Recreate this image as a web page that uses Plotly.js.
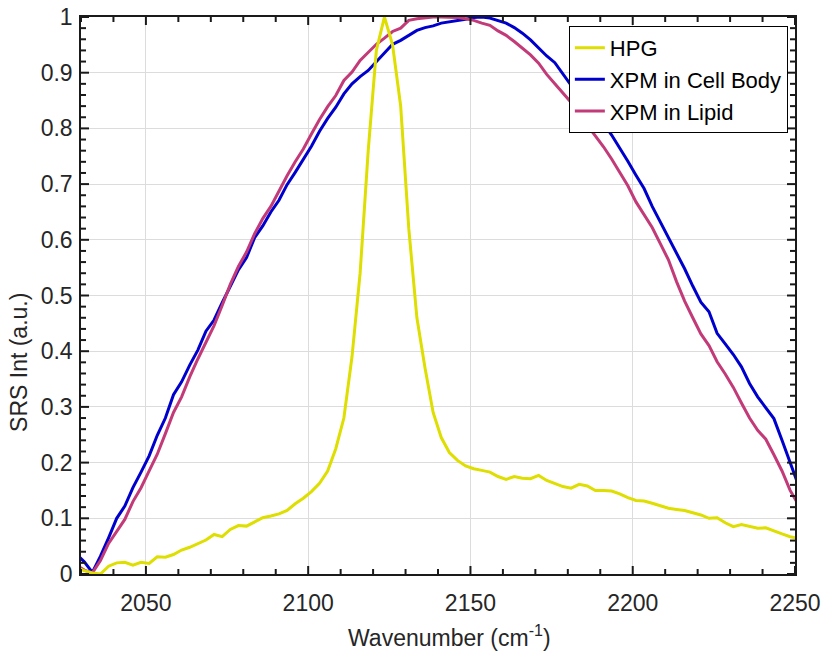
<!DOCTYPE html>
<html>
<head>
<meta charset="utf-8">
<script src="https://cdn.plot.ly/plotly-3.0.1.min.js"></script>
<style>
  html, body { margin: 0; padding: 0; background: #ffffff; }
  #chart { width: 826px; height: 655px; }
</style>
</head>
<body>
<div id="chart"></div>
<script>
// Wavenumber axis (cm^-1)
const wavenumber = [2028.5, 2031, 2033.5, 2036, 2038.5, 2041, 2043.5, 2046, 2048.5, 2051,
  2053.5, 2056, 2058.5, 2061, 2063.5, 2066, 2068.5, 2071, 2073.5, 2076,
  2078.5, 2081, 2083.5, 2086, 2088.5, 2091, 2093.5, 2096, 2098.5, 2101,
  2103.5, 2106, 2108.5, 2111, 2113.5, 2116, 2118.5, 2121, 2123.5, 2126,
  2128.5, 2131, 2133.5, 2136, 2138.5, 2141, 2143.5, 2146, 2148.5, 2151,
  2153.5, 2156, 2158.5, 2161, 2163.5, 2166, 2168.5, 2171, 2173.5, 2176,
  2178.5, 2181, 2183.5, 2186, 2188.5, 2191, 2193.5, 2196, 2198.5, 2201,
  2203.5, 2206, 2208.5, 2211, 2213.5, 2216, 2218.5, 2221, 2223.5, 2226,
  2228.5, 2231, 2233.5, 2236, 2238.5, 2241, 2243.5, 2246, 2248.5, 2251];

// HPG
const hpg = [0.012, 0.006, 0.002, 0.000, 0.014, 0.020, 0.021, 0.016, 0.021, 0.019,
  0.031, 0.030, 0.035, 0.043, 0.048, 0.054, 0.061, 0.071, 0.067, 0.080,
  0.087, 0.086, 0.094, 0.101, 0.104, 0.108, 0.114, 0.126, 0.136, 0.148,
  0.163, 0.185, 0.225, 0.280, 0.390, 0.540, 0.760, 0.940, 1.000, 0.950,
  0.840, 0.620, 0.460, 0.370, 0.290, 0.245, 0.218, 0.204, 0.194, 0.189,
  0.186, 0.183, 0.175, 0.170, 0.175, 0.172, 0.171, 0.177, 0.168, 0.162,
  0.157, 0.154, 0.161, 0.158, 0.150, 0.150, 0.149, 0.144, 0.137, 0.132,
  0.131, 0.127, 0.122, 0.118, 0.116, 0.114, 0.110, 0.106, 0.100, 0.101,
  0.092, 0.085, 0.089, 0.085, 0.082, 0.083, 0.077, 0.072, 0.067, 0.064];

// XPM in Cell Body
const xpmCell = [0.036, 0.022, 0.003, 0.032, 0.065, 0.100, 0.122, 0.155, 0.183, 0.212,
  0.249, 0.280, 0.322, 0.345, 0.375, 0.402, 0.436, 0.456, 0.487, 0.518,
  0.546, 0.568, 0.604, 0.625, 0.650, 0.671, 0.699, 0.721, 0.745, 0.768,
  0.795, 0.818, 0.838, 0.862, 0.880, 0.893, 0.904, 0.920, 0.936, 0.951,
  0.958, 0.967, 0.976, 0.981, 0.984, 0.989, 0.991, 0.993, 0.996, 0.999,
  1.000, 0.998, 0.994, 0.989, 0.981, 0.971, 0.959, 0.945, 0.930, 0.918,
  0.897, 0.877, 0.857, 0.840, 0.825, 0.809, 0.788, 0.765, 0.741, 0.716,
  0.692, 0.660, 0.632, 0.603, 0.575, 0.548, 0.517, 0.488, 0.471, 0.432,
  0.413, 0.394, 0.372, 0.342, 0.318, 0.299, 0.279, 0.240, 0.198, 0.160];

// XPM in Lipid
const xpmLipid = [0.016, 0.007, 0.002, 0.024, 0.055, 0.077, 0.098, 0.130, 0.155, 0.185,
  0.215, 0.252, 0.290, 0.318, 0.354, 0.386, 0.416, 0.446, 0.482, 0.520,
  0.552, 0.578, 0.611, 0.638, 0.660, 0.688, 0.715, 0.740, 0.763, 0.790,
  0.816, 0.839, 0.859, 0.886, 0.901, 0.922, 0.936, 0.951, 0.962, 0.974,
  0.980, 0.994, 0.997, 0.999, 1.000, 1.000, 1.000, 0.999, 0.997, 0.994,
  0.989, 0.985, 0.975, 0.967, 0.956, 0.944, 0.932, 0.917, 0.897, 0.880,
  0.863, 0.847, 0.830, 0.806, 0.787, 0.767, 0.745, 0.721, 0.697, 0.668,
  0.645, 0.622, 0.593, 0.564, 0.525, 0.490, 0.460, 0.431, 0.410, 0.381,
  0.359, 0.335, 0.307, 0.280, 0.258, 0.242, 0.214, 0.185, 0.150, 0.125];

const seriesNames = ["HPG", "XPM in Cell Body", "XPM in Lipid"];
const yTickVals = [0, 0.1, 0.2, 0.3, 0.4, 0.5, 0.6, 0.7, 0.8, 0.9, 1];
const yTickText = ["0", "0.1", "0.2", "0.3", "0.4", "0.5", "0.6", "0.7", "0.8", "0.9", "1"];
const xTickVals = [2050, 2100, 2150, 2200, 2250];
const xTickText = ["2050", "2100", "2150", "2200", "2250"];
const xTitle = "Wavenumber (cm<sup>-1</sup>)";
const yTitle = "SRS Int (a.u.)";

const FONT = "'Liberation Sans', Arial, Helvetica, sans-serif";
const AX = "#262626";
const X_RANGE = [2030, 2250];
const Y_RANGE = [0, 1];
const X_MINOR_STEP = 10;
const Y_MINOR_STEP = 0.02;

const W = 826, H = 655;
const M = { l: 81, r: 31, t: 17, b: 81 };

// Inside tick marks on all four sides, built as a decoration line trace
// (lengths converted from pixels to axis units).
function tickTrace() {
  const pxX = (X_RANGE[1] - X_RANGE[0]) / (W - M.l - M.r);
  const pxY = (Y_RANGE[1] - Y_RANGE[0]) / (H - M.t - M.b);
  const xs = [], ys = [];
  const nX = Math.round((X_RANGE[1] - X_RANGE[0]) / X_MINOR_STEP);
  for (let i = 0; i <= nX; i++) {
    const v = +(X_RANGE[0] + i * X_MINOR_STEP).toFixed(6);
    const len = (xTickVals.includes(v) ? 8 : 5) * pxY;
    xs.push(v, v, null, v, v, null);
    ys.push(Y_RANGE[0], Y_RANGE[0] + len, null, Y_RANGE[1], Y_RANGE[1] - len, null);
  }
  const nY = Math.round((Y_RANGE[1] - Y_RANGE[0]) / Y_MINOR_STEP);
  for (let i = 0; i <= nY; i++) {
    const v = +(Y_RANGE[0] + i * Y_MINOR_STEP).toFixed(6);
    const len = (yTickVals.includes(v) ? 8 : 5) * pxX;
    xs.push(X_RANGE[0], X_RANGE[0] + len, null, X_RANGE[1], X_RANGE[1] - len, null);
    ys.push(v, v, null, v, v, null);
  }
  return { x: xs, y: ys, type: "scatter", mode: "lines", connectgaps: false,
    line: { color: "#1a1a1a", width: 2 }, showlegend: false, hoverinfo: "skip" };
}

const traces = [
  { x: wavenumber, y: xpmCell, name: seriesNames[1], type: "scatter", mode: "lines",
    line: { color: "#0000CD", width: 3 }, legendrank: 2 },
  { x: wavenumber, y: xpmLipid, name: seriesNames[2], type: "scatter", mode: "lines",
    line: { color: "#C23B78", width: 3 }, legendrank: 3 },
  { x: wavenumber, y: hpg, name: seriesNames[0], type: "scatter", mode: "lines",
    line: { color: "#DEDE00", width: 3 }, legendrank: 1 },
  tickTrace()
];

const layout = {
  width: W, height: H,
  margin: { l: M.l, r: M.r, t: M.t, b: M.b, pad: 0 },
  paper_bgcolor: "#ffffff", plot_bgcolor: "#ffffff",
  font: { family: FONT, size: 23, color: AX },
  showlegend: true,
  legend: {
    x: 0.99, y: 0.984, xanchor: "right", yanchor: "top",
    bgcolor: "#ffffff", bordercolor: "#000000", borderwidth: 1,
    font: { family: FONT, size: 22, color: "#000000" },
    itemwidth: 30, tracegroupgap: 0
  },
  xaxis: {
    range: X_RANGE, tickmode: "array", tickvals: xTickVals, ticktext: xTickText,
    showline: true, linecolor: "#1a1a1a", linewidth: 1.5, mirror: true, ticks: "",
    showgrid: true, gridcolor: "#dcdcdc", gridwidth: 1, zeroline: false,
    tickfont: { family: FONT, size: 23, color: AX }, ticklabelstandoff: 8
  },
  yaxis: {
    range: Y_RANGE, tickmode: "array", tickvals: yTickVals, ticktext: yTickText,
    showline: true, linecolor: "#1a1a1a", linewidth: 1.5, mirror: true, ticks: "",
    showgrid: true, gridcolor: "#dcdcdc", gridwidth: 1, zeroline: false,
    tickfont: { family: FONT, size: 23, color: AX }, ticklabelstandoff: 2
  },
  annotations: [
    { text: xTitle, xref: "paper", yref: "paper", x: 0.516, y: -0.112,
      xanchor: "center", yanchor: "middle", showarrow: false,
      font: { family: FONT, size: 23, color: AX } },
    { text: yTitle, xref: "paper", yref: "paper", x: -0.086, y: 0.38, textangle: -90,
      xanchor: "center", yanchor: "middle", showarrow: false,
      font: { family: FONT, size: 23, color: AX } }
  ]
};

Plotly.newPlot("chart", traces, layout, { displayModeBar: false });
</script>
</body>
</html>
